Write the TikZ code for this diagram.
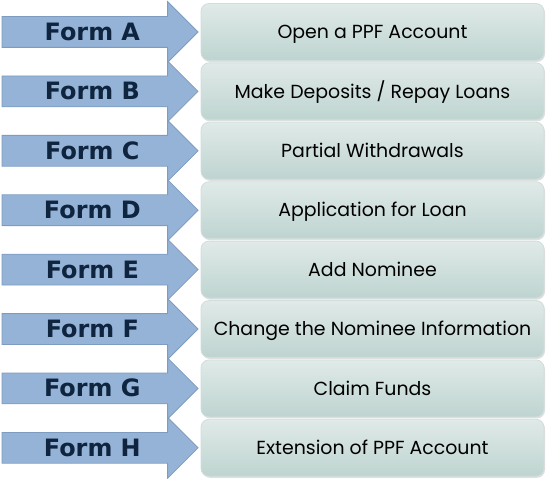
\documentclass[tikz,border=0pt]{standalone}
\usepackage{fontspec}
\setmainfont{Poppins}
\newfontfamily\formfont{DejaVu Sans}
\usetikzlibrary{positioning,shapes.arrows,shadows}
\definecolor{steel}{HTML}{95B3D7}
\definecolor{steeledge}{HTML}{7E9CC0}
\definecolor{navyink}{HTML}{0F243E}
\definecolor{sagetop}{HTML}{E0EAE8}
\definecolor{sagebot}{HTML}{BED4D0}
\definecolor{sageedge}{HTML}{D2DEDC}
\tikzset{
  x=1bp, y=-1bp,
  task/.style    = {draw=sageedge, line width=0.8bp, rounded corners=8bp,
                    top color=sagetop, bottom color=sagebot,
                    minimum width=343bp, minimum height=57bp, inner sep=0pt,
                    text height=13.3bp, text depth=0pt,
                    font=\fontsize{19}{22}\selectfont, text=black,
                    drop shadow={shadow xshift=1bp, shadow yshift=-1.5bp, opacity=0.25}},
  formarrow/.style = {single arrow, draw=steeledge, fill=steel, line width=0.8bp,
                    single arrow head extend=15bp, single arrow tip angle=90,
                    minimum height=196bp, text height=17bp, text depth=0pt,
                    inner xsep=0pt, inner ysep=6.5bp,
                    font=\formfont\bfseries\fontsize{24}{26}\selectfont, text=navyink},
}
\begin{document}
\begin{tikzpicture}
\useasboundingbox (0,0) rectangle (550,479);

% ---------------- the tasks -------------------------------------------
\node[task] at (372.5, 32.0) (tA) {Open a PPF Account};
\node[task] at (372.5, 91.4) (tB) {Make Deposits / Repay Loans};
\node[task] at (372.5,150.8) (tC) {Partial Withdrawals};
\node[task] at (372.5,210.2) (tD) {Application for Loan};
\node[task] at (372.5,269.6) (tE) {Add Nominee};
\node[task] at (372.5,329.0) (tF) {Change the Nominee Information};
\node[task] at (372.5,388.4) (tG) {Claim Funds};
\node[task] at (372.5,447.8) (tH) {Extension of PPF Account};

% ---------------- the forms pointing at them --------------------------
\foreach \f in {A,B,C,D,E,F,G,H}
  \node[formarrow, anchor=tip] (f\f) at ([xshift=-2bp]t\f.west) {Form \f};

\end{tikzpicture}
\end{document}
